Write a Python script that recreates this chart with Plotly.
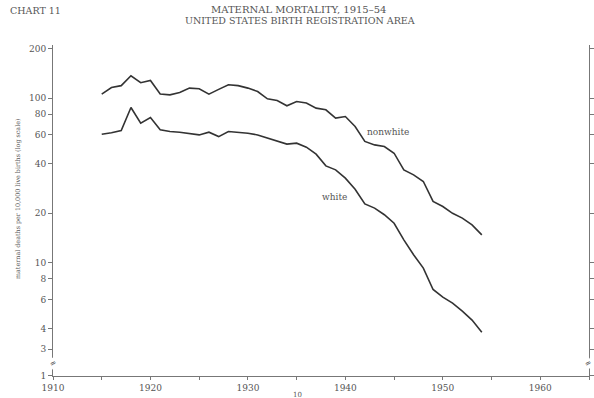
import math
import plotly.graph_objects as go

years = list(range(1915, 1955))
nonwhite = [105.7, 116, 119, 136.6, 124, 128, 106, 104.7, 108, 115,
            114, 105.7, 113, 120.5, 119, 115, 109.6, 99, 96.7, 89.8,
            95.4, 93.3, 86.9, 84.9, 75.6, 77.3, 67.3, 54.6, 52.0, 50.8,
            46.3, 36.7, 34.2, 31.2, 23.6, 22.0, 20.0, 18.7, 17.0, 14.8]
white = [60.4, 61.6, 63.6, 87.7, 70.5, 76.3, 64.2, 62.7, 62.1, 61.2,
         59.8, 62.1, 58.4, 62.7, 62.1, 61.2, 59.8, 57.1, 54.5, 52.6,
         53.3, 50.4, 45.7, 38.8, 36.7, 32.7, 28.0, 22.8, 21.5, 19.6,
         17.4, 13.8, 11.2, 9.3, 6.9, 6.2, 5.7, 5.1, 4.5, 3.8]

x_tickvals = list(range(1910, 1966, 5))
x_ticktext = [str(v) if v % 10 == 0 else "" for v in x_tickvals]
y_bottom = 2.06
y_top = 210
y_tickvals = [y_bottom + 0.01, 3, 4, 6, 8, 10, 20, 40, 60, 80, 100, 200]
y_ticktext = ["1", "3", "4", "6", "8", "10", "20", "40", "60", "80", "100", "200"]
break_y = 2.44

LINE = "#333333"
TXT = "#555555"
SERIF = "DejaVu Serif, Liberation Serif, serif"

W, H = 594, 398
L, T, R, B = 53, 45, 5, 22
PW, PH = W - L - R, H - T - B


def px_to_paper(px, py):
    return (px - L) / PW, (H - B - py) / PH


fig = go.Figure()
fig.add_trace(go.Scatter(x=years, y=nonwhite, mode="lines",
                         line=dict(color=LINE, width=1.6), name="nonwhite"))
fig.add_trace(go.Scatter(x=years, y=white, mode="lines",
                         line=dict(color=LINE, width=1.6), name="white"))

fig.update_layout(
    width=W, height=H,
    margin=dict(l=L, r=R, t=T, b=B, autoexpand=False),
    plot_bgcolor="white", paper_bgcolor="white",
    showlegend=False,
    font=dict(family=SERIF, color=TXT, size=8),
    xaxis=dict(range=[1910, 1965], tickvals=x_tickvals, ticktext=x_ticktext,
               showgrid=False, zeroline=False, showline=True, linecolor="#777",
               linewidth=1, ticks="outside", ticklen=3, tickcolor="#777",
               tickfont=dict(size=9, color=TXT)),
    yaxis=dict(type="log", range=[math.log10(y_bottom), math.log10(y_top)],
               tickvals=y_tickvals, ticktext=y_ticktext,
               showgrid=False, zeroline=False, showline=True, linecolor="#777",
               linewidth=1, mirror="ticks", ticks="outside", ticklen=4,
               tickcolor="#777", tickfont=dict(size=9, color=TXT)),
)

titles = [("CHART 11", 8, 10, "left", 9.5),
          ("MATERNAL MORTALITY, 1915–54", 298, 9, "center", 10),
          ("UNITED STATES BIRTH REGISTRATION AREA", 300, 21, "center", 9.5)]
for text, px, py, xa, fs in titles:
    x, y = px_to_paper(px, py)
    fig.add_annotation(text=text, xref="paper", yref="paper", x=x, y=y,
                       xanchor=xa, yanchor="middle", showarrow=False,
                       font=dict(family=SERIF, size=fs, color=TXT))

x, y = px_to_paper(12, 199)
fig.add_annotation(text="maternal deaths per 10,000 live births (log scale)",
                   xref="paper", yref="paper", x=x, y=y,
                   textangle=-90, showarrow=False,
                   font=dict(family=SERIF, size=6.4, color=TXT))
fig.add_annotation(text="nonwhite", x=1944.4, y=math.log10(62.4), showarrow=False,
                   font=dict(family=SERIF, size=9, color=TXT))
fig.add_annotation(text="white", x=1938.9, y=math.log10(25.2), showarrow=False,
                   font=dict(family=SERIF, size=9, color=TXT))
x, y = px_to_paper(297, 395)
fig.add_annotation(text="10", xref="paper", yref="paper", x=x, y=y,
                   yanchor="middle", showarrow=False,
                   font=dict(family=SERIF, size=7, color=TXT))
for bx, shift in ((1910, 0), (1965, -1)):
    fig.add_annotation(text="≈", x=bx, y=math.log10(break_y), showarrow=False,
                       textangle=-35, bgcolor="white", xshift=shift,
                       borderpad=0,
                       font=dict(family=SERIF, size=8, color="#444"))

fig.write_html("out.html",
               config={"displayModeBar": False},
               post_script="document.body.style.margin='0';"
                           "document.body.style.overflow='hidden';")
